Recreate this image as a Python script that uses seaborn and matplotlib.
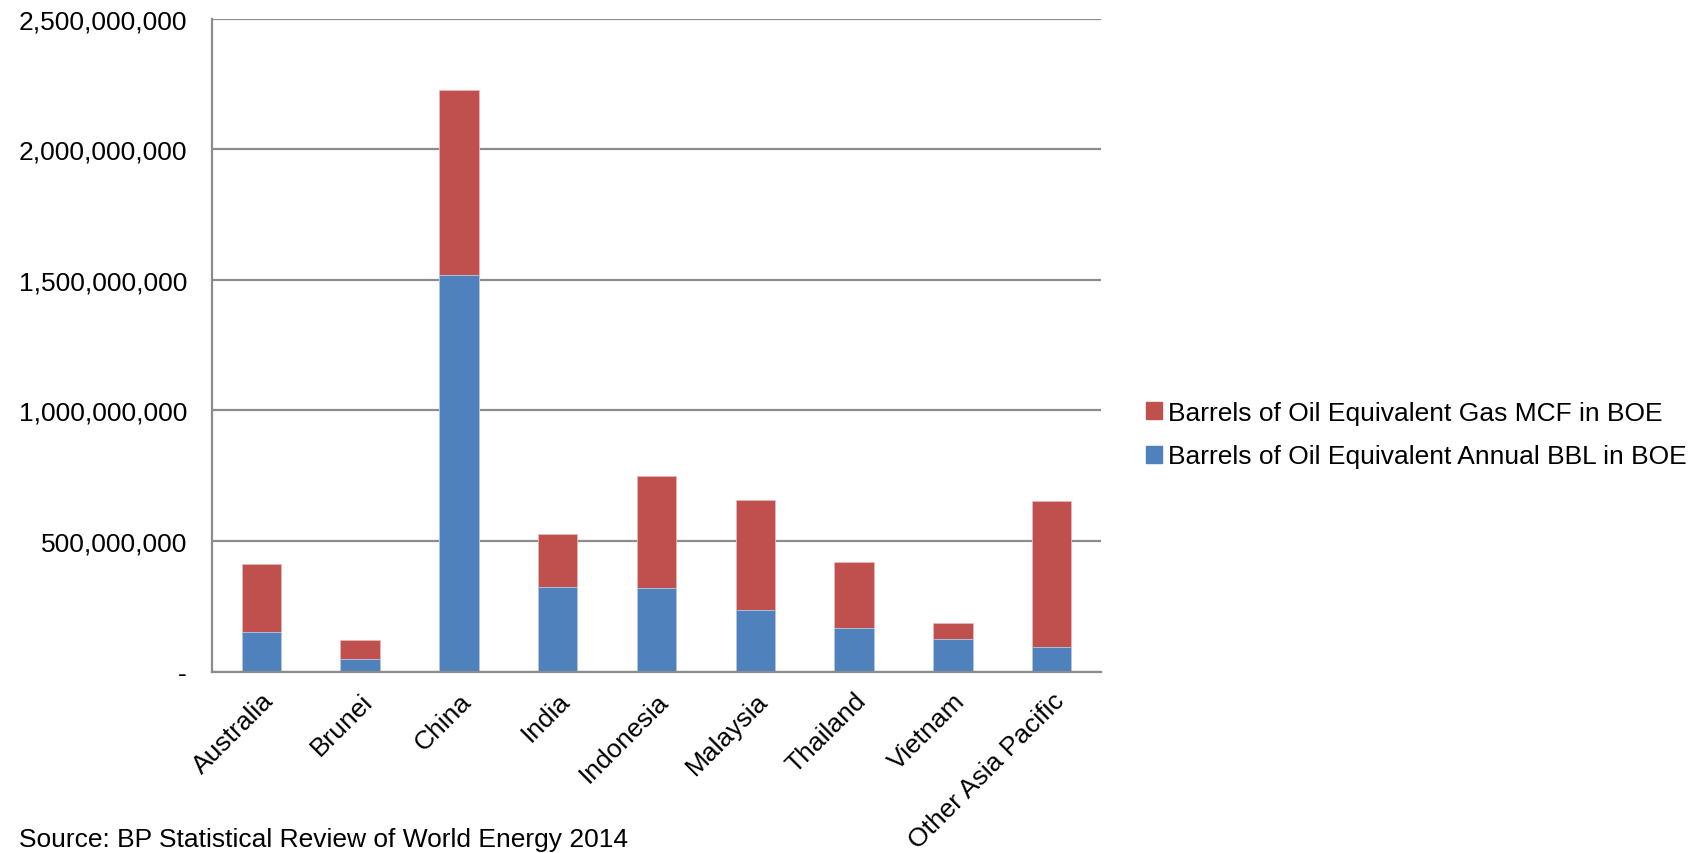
import matplotlib
matplotlib.use("Agg")
import matplotlib.pyplot as plt
import matplotlib.ticker as mticker
import matplotlib.patches as mpatches
import seaborn as sns
import pandas as pd

# data (barrels of oil equivalent)
countries = ["Australia", "Brunei", "China", "India", "Indonesia",
             "Malaysia", "Thailand", "Vietnam", "Other Asia Pacific"]
oil_boe = [150e6, 49e6, 1520e6, 325e6, 320e6, 236e6, 165e6, 125e6, 92e6]
gas_boe = [260e6, 73e6, 707e6, 202e6, 427e6, 421e6, 253e6, 60e6, 561e6]

df = pd.DataFrame({"country": countries, "oil": oil_boe, "gas": gas_boe})
df["total"] = df["oil"] + df["gas"]

blue = "#4F81BD"
red = "#C0504D"
grid_col = "#8C8C8C"
fs = 19

sns.set_style("white")
plt.rcParams["font.family"] = ["Liberation Sans", "DejaVu Sans"]
plt.rcParams["text.color"] = "black"
plt.rcParams["xtick.color"] = "black"
plt.rcParams["ytick.color"] = "black"

fig = plt.figure(figsize=(17.03, 8.54), dpi=100)
ax = fig.add_axes([0.1245, 0.2125, 0.522, 0.7645])

# stacked: gas on top of oil
sns.barplot(data=df, x="country", y="total", color=red, width=0.4,
            saturation=1, edgecolor="#E8B8B6", linewidth=0.6, ax=ax)
sns.barplot(data=df, x="country", y="oil", color=blue, width=0.4,
            saturation=1, edgecolor="#B8CCE4", linewidth=0.6, ax=ax)

ax.set_ylim(0, 2.5e9)
ax.set_xlim(-0.5, len(countries) - 0.5)
ax.yaxis.set_major_locator(mticker.MultipleLocator(5e8))
ax.yaxis.set_major_formatter(mticker.FuncFormatter(
    lambda v, p: "-" if v == 0 else f"{v:,.0f}"))
ax.yaxis.grid(True, color=grid_col, linewidth=1.6)
ax.set_axisbelow(True)

# ticks at category boundaries on x
ax.set_xticks([i for i in range(len(countries))])
ax.set_xticklabels(countries, rotation=45, ha="right", rotation_mode="anchor")
ax.set_xticks([i - 0.5 for i in range(len(countries) + 1)], minor=True)
ax.tick_params(axis="x", which="major", length=0, pad=12, labelsize=fs,
               labelcolor="black")
ax.tick_params(axis="x", which="minor", length=8, width=1.6, color=grid_col)
ax.tick_params(axis="y", length=8, width=1.6, color=grid_col, labelsize=fs,
               pad=10, labelcolor="black")

for s in ["top", "right"]:
    ax.spines[s].set_visible(False)
for s in ["left", "bottom"]:
    ax.spines[s].set_color(grid_col)
    ax.spines[s].set_linewidth(1.6)

ax.set_xlabel("")
ax.set_ylabel("")

handles = [mpatches.Patch(color=red, label="Barrels of Oil Equivalent Gas MCF in BOE"),
           mpatches.Patch(color=blue, label="Barrels of Oil Equivalent Annual BBL in BOE")]
leg = fig.legend(handles=handles, loc="center left", bbox_to_anchor=(0.659, 0.49),
                 frameon=False, fontsize=fs, handlelength=0.6, handleheight=0.6,
                 handletextpad=0.25, labelspacing=0.75)
for t in leg.get_texts():
    t.set_color("black")

fig.text(0.011, 0.002, "Source: BP Statistical Review of World Energy 2014",
         fontsize=fs, va="bottom", ha="left", color="black")

fig.savefig("out.png", dpi=100)
